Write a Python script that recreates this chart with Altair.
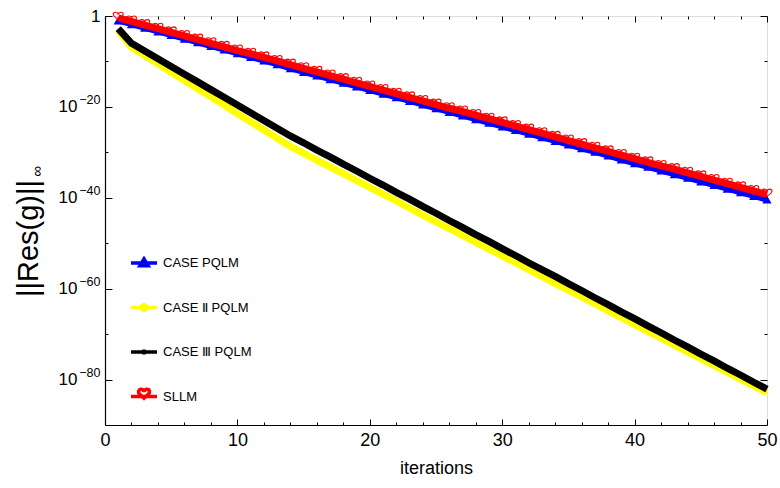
import altair as alt
import pandas as pd

iterations = list(range(1, 51))

# log10 of ||Res(g)||
case1_exp = [-1.0, -1.8, -2.6, -3.4, -4.2, -5.0, -5.8, -6.6, -7.4, -8.2,
             -9.0, -9.8, -10.6, -11.5, -12.3, -13.1, -13.9, -14.7, -15.5, -16.3,
             -17.1, -17.9, -18.7, -19.5, -20.3, -21.1, -21.9, -22.7, -23.5, -24.3,
             -25.1, -25.9, -26.7, -27.5, -28.3, -29.1, -29.9, -30.7, -31.6, -32.4,
             -33.2, -34.0, -34.8, -35.6, -36.4, -37.2, -38.0, -38.8, -39.6, -40.4]
case2_exp = [-3.2, -6.9, -8.7, -10.5, -12.4, -14.2, -16.0, -17.8, -19.6, -21.5,
             -23.3, -25.1, -26.9, -28.7, -30.2, -31.7, -33.2, -34.7, -36.2, -37.7,
             -39.2, -40.7, -42.3, -43.8, -45.3, -46.8, -48.3, -49.8, -51.3, -52.8,
             -54.3, -55.8, -57.3, -58.9, -60.3, -61.8, -63.3, -64.9, -66.4, -67.9,
             -69.4, -70.9, -72.4, -73.9, -75.4, -76.9, -78.4, -79.9, -81.4, -82.9]
case3_exp = [-2.8, -6.0, -7.7, -9.4, -11.1, -12.8, -14.5, -16.2, -17.9, -19.6,
             -21.3, -23.0, -24.7, -26.4, -27.9, -29.5, -31.0, -32.6, -34.1, -35.7,
             -37.2, -38.8, -40.3, -41.9, -43.4, -45.0, -46.5, -48.1, -49.6, -51.2,
             -52.7, -54.3, -55.8, -57.3, -58.9, -60.4, -62.0, -63.5, -65.1, -66.6,
             -68.2, -69.7, -71.3, -72.8, -74.4, -75.9, -77.5, -79.0, -80.6, -82.1]
sllm_exp = [-0.4, -1.2, -2.0, -2.8, -3.6, -4.4, -5.2, -6.0, -6.8, -7.6,
            -8.3, -9.1, -9.9, -10.7, -11.5, -12.3, -13.1, -13.9, -14.7, -15.5,
            -16.3, -17.1, -17.9, -18.7, -19.5, -20.3, -21.0, -21.8, -22.6, -23.4,
            -24.2, -25.0, -25.8, -26.6, -27.4, -28.2, -29.0, -29.8, -30.6, -31.4,
            -32.2, -33.0, -33.7, -34.5, -35.3, -36.1, -36.9, -37.7, -38.5, -39.3]

series_names = ["CASE PQLM", "CASE \u2161 PQLM", "CASE \u2162 PQLM", "SLLM"]
series_colors = ["#0000ff", "#ffff00", "#000000", "#ff0000"]
legend_fills = ["#0000ff", "#ffff00", "#000000", "#ffffff"]

x_major = [0, 10, 20, 30, 40, 50]
x_minor = [2, 4, 6, 8, 12, 14, 16, 18, 22, 24, 26, 28, 32, 34, 36, 38, 42, 44, 46, 48]
y_major = [1.0, 1e-20, 1e-40, 1e-60, 1e-80]
y_minor = [1e-10, 1e-30, 1e-50, 1e-70]

FONT = "Liberation Sans"


def frame(exps, name):
    return pd.DataFrame({"iteration": iterations,
                         "res": [10.0 ** e for e in exps],
                         "series": name})


df_blue = frame(case1_exp, series_names[0])
df_yellow = frame(case2_exp, series_names[1])
df_black = frame(case3_exp, series_names[2])
df_red = frame(sllm_exp, series_names[3])
df_all = pd.concat([df_blue, df_yellow, df_black, df_red])

x_scale = alt.Scale(domain=[0, 50], nice=False, zero=False)
y_scale = alt.Scale(type="log", domain=[1e-90, 1.0], nice=False)

base_label_expr = "datum.value >= 0.5 ? '' : '10'"
exp_label_expr = ("datum.value >= 0.5 ? '1' : '\u2212' + "
                  "format(-round(log(datum.value) / LN10), 'd')")


def tick_axis(orient, values, size, labels=False, **kw):
    return alt.Axis(orient=orient, values=values, tickSize=size, offset=-size,
                    domain=False, labels=labels, grid=False, tickColor="#000000",
                    tickWidth=1, **kw)


ax_b_major = tick_axis("bottom", x_major, 6, labels=True, labelFont=FONT, labelFontSize=18,
                       labelColor="#000000", labelPadding=6, labelFlush=False,
                       title="iterations", titleFont=FONT, titleFontSize=18,
                       titleFontWeight="normal", titleColor="#000000", titlePadding=10)
ax_b_minor = tick_axis("bottom", x_minor, 3, title=None)
ax_t_major = tick_axis("top", x_major, 6, title=None)
ax_t_minor = tick_axis("top", x_minor, 3, title=None)

ax_l_major = tick_axis("left", y_major, 7, labels=True, labelFont=FONT, labelFontSize=17,
                       labelColor="#000000", labelPadding=28, labelFlush=False,
                       labelExpr=base_label_expr,
                       title="||Res(g)||", titleFont=FONT, titleFontSize=29,
                       titleFontWeight="normal", titleColor="#000000", titlePadding=15,
                       titleY=222)
ax_l_minor = tick_axis("left", y_minor, 3, title=None)
ax_r_major = tick_axis("right", y_major, 7, title=None)
ax_r_minor = tick_axis("right", y_minor, 3, title=None)

ax_l_exp = alt.Axis(orient="left", values=y_major, ticks=False, domain=False, grid=False,
                    labelExpr=exp_label_expr, labelFont=FONT, labelColor="#000000",
                    labelFontSize={"condition": {"test": "datum.value >= 0.5", "value": 17},
                                   "value": 12.5},
                    labelOffset={"condition": {"test": "datum.value >= 0.5", "value": 0},
                                 "value": -7},
                    labelPadding=5, labelFlush=False, title=None)

# small subscript infinity of the y title, drawn as the title of a helper axis
ax_b_domain = alt.Axis(orient="bottom", ticks=False, labels=False, grid=False,
                       domainColor="#000000", domainWidth=1.2, title=None)
ax_l_domain = alt.Axis(orient="left", ticks=False, labels=False, grid=False,
                       domainColor="#000000", domainWidth=1.2,
                       title="\u221e", titleFont=FONT, titleFontSize=15,
                       titleFontWeight="normal", titleColor="#000000",
                       titleAngle=270, titleBaseline="top", titleAlign="center",
                       titleX=-76, titleY=155)


def xy(xaxis, yaxis):
    return dict(x=alt.X("iteration:Q", scale=x_scale, axis=xaxis),
                y=alt.Y("res:Q", scale=y_scale, axis=yaxis))


blue_line = alt.Chart(df_blue).mark_line(color=series_colors[0], strokeWidth=6).encode(
    **xy(ax_b_major, ax_l_major))
blue_pts = alt.Chart(df_blue).mark_point(shape="triangle-up", filled=True,
                                         color=series_colors[0], size=85, opacity=1).encode(
    **xy(ax_b_minor, ax_l_minor))
yellow_line = alt.Chart(df_yellow).mark_line(color=series_colors[1], strokeWidth=7).encode(
    **xy(ax_t_major, ax_r_major))
black_line = alt.Chart(df_black).mark_line(color=series_colors[2], strokeWidth=7).encode(
    **xy(ax_t_minor, ax_r_minor))
red_line = alt.Chart(df_red).mark_line(color=series_colors[3], strokeWidth=7).encode(
    **xy(ax_b_domain, ax_l_domain))

heart = ("M0,-0.65C-0.1,-1.25 -1,-1.25 -1,-0.65C-1,-0.25 -0.4,0 0,0.35"
         "C0.4,0 1,-0.25 1,-0.65C1,-1.25 0.1,-1.25 0,-0.65Z")
red_pts = alt.Chart(df_red).mark_point(shape=heart, filled=False, color=series_colors[3],
                                       size=100, strokeWidth=1.1, opacity=1).encode(
    **xy(None, ax_l_exp))

legend_paths = [
    "M-1,0H1M-0.32,0.22L0,-0.32L0.32,0.22Z",
    "M-1,0H1M-0.22,0A0.22,0.22 0 1,0 0.22,0A0.22,0.22 0 1,0 -0.22,0Z",
    "M-1,0H1M0,-0.2V0.2",
    "M-1,0H1M0,-0.35C-0.05,-0.62 -0.42,-0.62 -0.42,-0.35C-0.42,-0.15 -0.15,-0.05 0,0.12"
    "C0.15,-0.05 0.42,-0.15 0.42,-0.35C0.42,-0.62 0.05,-0.62 0,-0.35Z",
]

leg = alt.Legend(orient="none", legendX=24, legendY=232, title=None, labelFont=FONT,
                 labelFontSize=13, labelColor="#000000", symbolSize=676,
                 symbolStrokeWidth=3.5, rowPadding=19.5, labelOffset=4, padding=0,
                 symbolOpacity=1)

legend_layer = alt.Chart(df_all).mark_point(size=676, strokeWidth=3.5, opacity=1).encode(
    shape=alt.Shape("series:N", scale=alt.Scale(domain=series_names, range=legend_paths),
                    legend=leg),
    stroke=alt.Stroke("series:N", scale=alt.Scale(domain=series_names, range=series_colors),
                      legend=leg),
    fill=alt.Fill("series:N", scale=alt.Scale(domain=series_names, range=legend_fills),
                  legend=leg),
).transform_filter("datum.iteration < 0")

chart = alt.layer(
    blue_line, blue_pts, yellow_line, black_line, red_line, red_pts, legend_layer
).resolve_scale(
    x="shared", y="shared"
).resolve_axis(
    x="independent", y="independent"
).properties(
    width=662, height=409,
    autosize=alt.AutoSizeParams(type="none"),
    padding={"left": 105, "top": 16, "right": 13, "bottom": 63},
).configure_view(
    stroke="#777777", strokeWidth=1
).configure(background="white")

chart.save("out.html", embed_options={"renderer": "svg", "actions": False})
